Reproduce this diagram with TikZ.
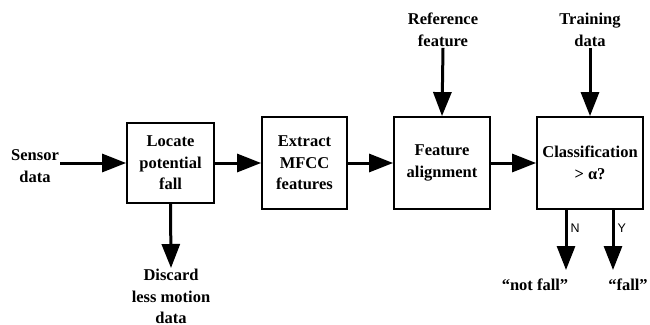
\documentclass[tikz,border=0pt]{standalone}
\usepackage{fontspec}
\setmainfont{Liberation Serif}
\newfontfamily\labelfont{Liberation Sans}
\usetikzlibrary{arrows.meta}
\begin{document}
\begin{tikzpicture}[x=1pt,y=-1pt,
  every node/.style={font=\bfseries\fontsize{16.5}{21.5}\selectfont, align=center, inner sep=1pt},
  blockbox/.style={draw, line width=1.8pt, minimum height=92pt},
  flow/.style={line width=3pt, -{Triangle[length=24pt,width=18pt]}},
  yn/.style={font=\labelfont\fontsize{12.5}{14}\selectfont}]
\useasboundingbox (0,0) rectangle (650,324);
% blocks
\node [blockbox, minimum width=87pt, minimum height=80pt] (locate) at (170.5,163) {Locate\\potential\\fall};
\node [blockbox, minimum width=85pt] (extract) at (304.5,163) {Extract\\MFCC\\features};
\node [blockbox, minimum width=96pt] (align) at (442,163) {Feature\\alignment};
\node [blockbox, minimum width=106pt] (classify) at (590,163) {Classification\\> α?};
% inputs and outputs
\node (sensor) at (35,166) {Sensor\\data};
\node (ref) at (443,30) {Reference\\feature};
\node (train) at (590,30) {Training\\data};
\node [anchor=north] (discard) at (171,268) {Discard\\less motion\\data};
\node (notfall) at (535,285) {“not fall”};
\node (isfall) at (628,285) {“fall”};
\coordinate (nend) at (566,270);
\coordinate (yend) at (613,270);
% connectors
\draw [flow] (sensor.east |- locate.west) -- (locate.west);
\draw [flow] (locate.east) -- (extract.west);
\draw [flow] (extract.east) -- (align.west);
\draw [flow] (align.east) -- (classify.west);
\draw [flow] (ref.south) -- (align.north);
\draw [flow] (train.south) -- (classify.north);
\draw [flow] (locate.south) -- (discard.north);
\draw [flow] (nend |- classify.south) -- (nend) node [yn, pos=0.3, right=2pt] {N};
\draw [flow] (yend |- classify.south) -- (yend) node [yn, pos=0.3, right=2pt] {Y};
\end{tikzpicture}
\end{document}
